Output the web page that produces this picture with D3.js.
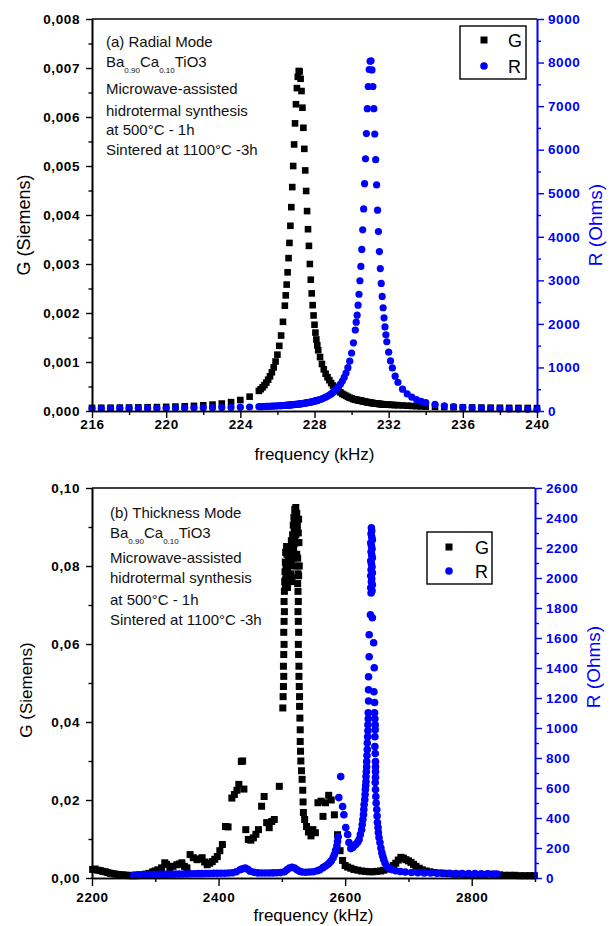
<!DOCTYPE html>
<html>
<head>
<meta charset="utf-8">
<script src="https://cdn.jsdelivr.net/npm/d3@7"></script>
<style>
  html, body { margin: 0; padding: 0; background: #fff; }
  svg { display: block; }
</style>
</head>
<body>
<svg id="chart" width="611" height="926"></svg>
<script>
// ---------- (a) radial mode sweep ----------
const radialFreq = [
  216, 216.5, 217, 217.5, 218, 218.5, 219, 219.5, 220, 220.5, 221, 221.5, 222, 222.5, 223, 223.5, 224, 224.5, 225,
  225.1, 225.2, 225.3, 225.4, 225.5, 225.6, 225.7, 225.8, 225.9, 226, 226.1, 226.2, 226.3, 226.4,
  226.45, 226.5, 226.55, 226.6, 226.65, 226.7, 226.75, 226.8, 226.85, 226.9, 226.95, 227, 227.05, 227.1, 227.15, 227.2,
  227.25, 227.3, 227.35, 227.4, 227.45, 227.5, 227.55, 227.6, 227.65, 227.7, 227.75, 227.8, 227.85, 227.9, 227.95, 228,
  228.05, 228.1, 228.15, 228.2,
  228.3, 228.4, 228.5, 228.6, 228.7, 228.8, 228.9, 229, 229.1, 229.2, 229.3, 229.4, 229.5, 229.6, 229.7, 229.8, 229.9, 230, 230.1, 230.2,
  230.25, 230.3, 230.35, 230.4, 230.45, 230.5, 230.55, 230.6, 230.65, 230.7, 230.75, 230.8, 230.85, 230.9, 230.95, 231,
  231.05, 231.1, 231.15, 231.2, 231.25, 231.3, 231.35, 231.4, 231.45, 231.5, 231.55, 231.6, 231.65, 231.7, 231.75, 231.8, 231.85, 231.9,
  232, 232.1, 232.2, 232.35, 232.5, 232.75, 233, 233.25, 233.5, 233.75, 234,
  234.5, 235, 235.5, 236, 236.5, 237, 237.5, 238, 238.5, 239, 239.5, 240
];
const radialG = [
  0.000064, 0.000066, 0.000067, 0.000069, 0.000071, 0.000074, 0.000077, 0.00008, 0.000085, 0.00009, 0.000097, 0.000105, 0.000117, 0.000131, 0.000152, 0.000181, 0.000224, 0.000293, 0.000411,
  0.000445, 0.000483, 0.000528, 0.000579, 0.000639, 0.000708, 0.000791, 0.000889, 0.00101, 0.00115, 0.00133, 0.00154, 0.00182, 0.00215,
  0.00236, 0.00258, 0.00283, 0.00312, 0.00343, 0.00378, 0.00416, 0.00457, 0.005, 0.00544, 0.00587, 0.00626, 0.00659, 0.00682, 0.00694, 0.00693,
  0.00678, 0.00653, 0.00619, 0.00578, 0.00535, 0.00491, 0.00449, 0.00408, 0.00371, 0.00337, 0.003, 0.00268, 0.0024, 0.00216, 0.00195, 0.00176,
  0.0016, 0.00146, 0.00134, 0.00124,
  0.0011, 0.00096, 0.00085, 0.00076, 0.00069, 0.00063, 0.00057, 0.00052, 0.00048, 0.00044, 0.00041, 0.00038, 0.00035, 0.00033, 0.00031, 0.00029, 0.00027, 0.00026, 0.00024, 0.00023,
  0.00023, 0.000225, 0.00022, 0.000217, 0.000213, 0.00021, 0.000205, 0.0002, 0.000196, 0.000192, 0.000188, 0.000184, 0.00018, 0.000177, 0.000173, 0.00017,
  0.000167, 0.000164, 0.000161, 0.000158, 0.000156, 0.000153, 0.000151, 0.000148, 0.000146, 0.000144, 0.000142, 0.00014, 0.000138, 0.000136, 0.000134, 0.000133, 0.000131, 0.00013,
  0.000128, 0.000126, 0.000124, 0.000121, 0.000118, 0.000113, 0.000108, 0.000103, 0.000098, 0.000093, 0.000088,
  0.000084, 0.00008, 0.000077, 0.000074, 0.000072, 0.00007, 0.000068, 0.000066, 0.000064, 0.000063, 0.000062, 0.00006
];
const radialR = [
  62, 62, 63, 64, 64, 65, 66, 67, 68, 69, 71, 72, 75, 77, 80, 83, 87, 92, 99,
  100, 102, 103, 105, 107, 109, 111, 113, 115, 118, 120, 123, 126, 129,
  130, 132, 134, 136, 137, 139, 141, 143, 145, 148, 150, 152, 155, 157, 160, 162,
  165, 168, 171, 174, 178, 181, 185, 189, 193, 197, 201, 205, 210, 215, 220, 226,
  231, 237, 243, 250,
  264, 280, 297, 317, 339, 365, 393, 426, 463, 507, 557, 617, 687, 770, 871, 995, 1144, 1332, 1565, 1860,
  2040, 2200, 2430, 2680, 2990, 3320, 3710, 4160, 4640, 5220, 5790, 6370, 6940, 7450, 7840, 8030,
  8040, 7830, 7450, 6940, 6360, 5770, 5190, 4610, 4120, 3660, 3270, 2930, 2630, 2370, 2140, 1930, 1750, 1590,
  1350, 1150, 990, 800, 660, 500, 392, 318, 262, 221, 190,
  150, 120, 99, 84, 73, 64, 58, 53, 48, 45, 42, 40
];

// ---------- (b) thickness mode sweep ----------
const thickGFreq = [
  2201, 2205, 2209, 2213, 2217, 2221, 2225, 2229, 2233, 2237, 2241, 2245, 2249, 2253, 2257, 2261, 2265, 2270, 2275, 2280, 2285, 2290,
  2296, 2300, 2304, 2310, 2315, 2318, 2323, 2328, 2334, 2338, 2342, 2346, 2350, 2355, 2360, 2366, 2370, 2374, 2378, 2382, 2386, 2390, 2394, 2398,
  2402, 2406, 2411, 2415, 2421, 2425, 2429, 2432, 2436, 2438, 2440, 2443, 2447, 2451, 2455, 2459, 2463, 2468, 2472, 2476, 2480, 2484, 2488, 2496,
  2501.5, 2502, 2502.5, 2503, 2502.5, 2503, 2503.5, 2503, 2503.5, 2504, 2503.5, 2504,
  2504.5, 2505, 2505.5, 2506, 2506.5, 2507, 2508, 2509, 2510, 2511, 2512, 2513, 2514, 2515, 2516, 2517, 2518, 2518.5, 2519, 2520,
  2520.5, 2521, 2522, 2522.5, 2523, 2523.5, 2524, 2524.5, 2525, 2525.5, 2525,
  2506, 2507.5, 2509, 2510.5, 2512, 2513.5, 2515, 2516.5, 2518, 2519.5, 2521, 2522, 2523, 2524, 2521.5, 2520, 2519, 2517.5, 2516, 2514.5,
  2508.5, 2505.5, 2520.5, 2522.5, 2523.5, 2524.5, 2526, 2527, 2526.5, 2527.5, 2526.5,
  2525.5, 2526, 2525.5, 2526, 2526.5, 2526, 2526.5, 2527, 2527, 2527.5, 2528, 2528, 2528.5, 2529, 2529, 2529.5, 2530, 2531, 2532, 2533,
  2533.5, 2534, 2536, 2539, 2542, 2546, 2549, 2553,
  2557, 2562, 2565, 2569, 2574, 2578, 2583,
  2588, 2592, 2596, 2600, 2604, 2609, 2614, 2620, 2626, 2632, 2638, 2644, 2650, 2656, 2661, 2666, 2671, 2676, 2680, 2684, 2688, 2692,
  2696, 2700, 2704, 2708, 2712, 2717, 2722, 2728, 2734, 2740, 2748, 2756, 2764, 2772, 2780, 2788, 2796, 2804, 2812, 2820, 2828, 2836,
  2844, 2852, 2860, 2868, 2876, 2884, 2892, 2899
];
const thickG = [
  0.0022, 0.0023, 0.002, 0.0019, 0.0017, 0.0016, 0.0014, 0.0012, 0.0011, 0.001, 0.0009, 0.0008, 0.0008, 0.0007, 0.0007, 0.0006, 0.0006, 0.0006, 0.0007, 0.0008, 0.001, 0.0012,
  0.0016, 0.0018, 0.0021, 0.0026, 0.0039, 0.0035, 0.0026, 0.003, 0.0034, 0.0036, 0.0039, 0.003, 0.0026, 0.006, 0.0052, 0.0047, 0.0049, 0.0052, 0.0041, 0.0034, 0.0038, 0.0042, 0.0048, 0.0055,
  0.007, 0.0086, 0.0132, 0.0131, 0.0205, 0.0214, 0.0225, 0.024, 0.0299, 0.03, 0.0228, 0.0124, 0.0099, 0.0097, 0.0103, 0.0112, 0.0124, 0.0184, 0.0209, 0.0142, 0.0129, 0.0145, 0.015, 0.0235,
  0.0436, 0.0465, 0.0491, 0.0517, 0.0543, 0.0573, 0.0599, 0.063, 0.0658, 0.0683, 0.0709, 0.0735,
  0.076, 0.0785, 0.081, 0.0835, 0.08, 0.077, 0.083, 0.079, 0.0845, 0.076, 0.0815, 0.085, 0.078, 0.0865, 0.08, 0.088, 0.0905, 0.084, 0.0925, 0.087,
  0.0945, 0.09, 0.095, 0.0915, 0.0885, 0.0935, 0.086, 0.0905, 0.082, 0.078, 0.0755,
  0.0765, 0.085, 0.0745, 0.0815, 0.0775, 0.083, 0.076, 0.0845, 0.087, 0.0895, 0.0935, 0.088, 0.0925, 0.089, 0.086, 0.091, 0.0855, 0.082, 0.077, 0.0805,
  0.0805, 0.0745, 0.083, 0.086, 0.083, 0.08, 0.0885, 0.086, 0.092, 0.08, 0.0775,
  0.0735, 0.0709, 0.0683, 0.0658, 0.063, 0.0599, 0.0573, 0.0543, 0.0517, 0.0491, 0.0465, 0.044, 0.041, 0.038, 0.035, 0.0325, 0.03, 0.0275, 0.0253, 0.0225,
  0.0195, 0.0168, 0.015, 0.0132, 0.0118, 0.0108, 0.0124, 0.0116,
  0.0193, 0.0197, 0.0158, 0.0193, 0.0212, 0.02, 0.0162,
  0.0111, 0.007, 0.0045, 0.0032, 0.0028, 0.0025, 0.0022, 0.002, 0.0018, 0.0017, 0.0016, 0.0016, 0.0017, 0.0018, 0.002, 0.0023, 0.0027, 0.0032, 0.0038, 0.0046, 0.0053, 0.0051,
  0.0047, 0.0044, 0.004, 0.0035, 0.003, 0.0025, 0.0021, 0.0018, 0.0016, 0.0014, 0.0013, 0.0012, 0.0011, 0.001, 0.001, 0.0009, 0.0009, 0.0009, 0.0008, 0.0009, 0.001, 0.0008,
  0.0008, 0.0007, 0.0007, 0.0007, 0.0006, 0.0006, 0.0006, 0.0006
];
const thickRFreq = [
  2266, 2272, 2278, 2284, 2290, 2296, 2302, 2308, 2314, 2320, 2326, 2332, 2338, 2344, 2350, 2356, 2362, 2368, 2374, 2380,
  2386, 2392, 2398, 2404, 2410, 2416, 2422, 2428, 2434, 2438, 2442, 2446, 2450, 2456, 2462, 2468, 2474, 2480, 2486, 2492,
  2498, 2504, 2508, 2512, 2516, 2520, 2524, 2528, 2532, 2538, 2544, 2550, 2556, 2560, 2565, 2569, 2573, 2576, 2578, 2581,
  2583, 2585, 2587, 2588, 2589, 2593, 2590, 2596, 2598, 2601, 2604, 2606, 2609, 2612, 2614, 2617, 2620,
  2622, 2624, 2626, 2627, 2628, 2629, 2629.5, 2630, 2631, 2631.5, 2632, 2632.5, 2633, 2633, 2633.5, 2634, 2634, 2634.5,
  2635, 2635, 2635.5, 2636, 2636, 2636.5, 2636.5, 2637, 2637, 2637, 2638, 2638, 2640,
  2641, 2642.5, 2640.5, 2643, 2641.5, 2642, 2640.5, 2643, 2641, 2642.5, 2641.5, 2640.5, 2643, 2642, 2641, 2642.5, 2641.5, 2640.5,
  2643, 2642, 2641, 2642, 2641.5,
  2643, 2645, 2646, 2645.5, 2646.5, 2646.5, 2647, 2647.5, 2647.5, 2647, 2647, 2647.5, 2648, 2648, 2648, 2648, 2647.5, 2648,
  2648.5, 2649, 2650, 2650.5, 2651, 2652, 2652.5, 2653.5, 2655, 2656.5, 2658, 2659.5, 2661, 2663, 2666, 2670, 2674, 2680,
  2687, 2695, 2705, 2715, 2725, 2735, 2745, 2755, 2765, 2775, 2785, 2795, 2805, 2815, 2825, 2835, 2840
];
const thickR = [
  20, 21, 21, 22, 22, 23, 23, 24, 24, 25, 25, 26, 26, 27, 27, 28, 28, 29, 29, 30,
  30, 31, 31, 32, 32, 33, 35, 42, 55, 62, 66, 58, 45, 38, 34, 33, 33, 33, 34, 35,
  36, 42, 55, 66, 72, 66, 55, 45, 40, 38, 40, 42, 48, 55, 69, 80, 92, 105, 115, 135,
  156, 185, 215, 245, 275, 676, 536, 476, 422, 336, 290, 236, 196, 203, 215, 225, 240,
  256, 290, 322, 356, 390, 423, 456, 490, 523, 556, 590, 616, 643, 676, 709, 742, 776, 816,
  856, 900, 942, 982, 1022, 1062, 1102, 1180, 1255, 1342, 1475, 1622, 1755,
  1900, 1915, 1935, 1955, 1975, 1995, 2015, 2035, 2055, 2075, 2095, 2115, 2135, 2155, 2175, 2195, 2215, 2235,
  2255, 2275, 2295, 2315, 2335,
  1735, 1568, 1402, 1242, 1170, 1102, 1062, 1022, 989, 942, 876, 830, 776, 742, 709, 672, 636, 590,
  543, 500, 456, 413, 370, 336, 303, 270, 236, 200, 169, 145, 123, 100, 76, 64, 56, 48,
  43, 40, 37, 35, 34, 33, 32, 31, 31, 30, 30, 29, 29, 28, 28, 27, 27
];

// ---------- axis ticks ----------
const radialXMajor = [216, 220, 224, 228, 232, 236, 240];
const radialXMinor = [218, 222, 226, 230, 234, 238];
const radialGMajor = [0, 0.001, 0.002, 0.003, 0.004, 0.005, 0.006, 0.007, 0.008];
const radialGMinor = [0.0005, 0.0015, 0.0025, 0.0035, 0.0045, 0.0055, 0.0065, 0.0075];
const radialRMajor = [0, 1000, 2000, 3000, 4000, 5000, 6000, 7000, 8000, 9000];
const radialRMinor = [500, 1500, 2500, 3500, 4500, 5500, 6500, 7500, 8500];

const thickXMajor = [2200, 2400, 2600, 2800];
const thickXMinor = [2300, 2500, 2700, 2900];
const thickGMajor = [0, 0.02, 0.04, 0.06, 0.08, 0.10];
const thickGMinor = [0.01, 0.03, 0.05, 0.07, 0.09];
const thickRMajor = [0, 200, 400, 600, 800, 1000, 1200, 1400, 1600, 1800, 2000, 2200, 2400, 2600];
const thickRMinor = [100, 300, 500, 700, 900, 1100, 1300, 1500, 1700, 1900, 2100, 2300, 2500];

// ---------- drawing ----------
const FONT = '"Liberation Sans", Arial, Helvetica, sans-serif';
const BLUE = "#0000ff";
const svg = d3.select("#chart");

const comma = digits => d => d.toFixed(digits).replace(".", ",");

function styleAxis(sel, color) {
  sel.attr("color", color)
     .attr("font-family", FONT)
     .attr("font-size", 13.5)
     .attr("font-weight", "bold");
  sel.selectAll("path.domain").attr("stroke-width", 1.6);
  sel.selectAll(".tick line").attr("stroke-width", 1.4);
  sel.selectAll(".tick text").style("letter-spacing", "0.6px");
}

function drawPanel(p) {
  const x = d3.scaleLinear().domain(p.xDomain).range([p.left, p.right]);
  const yG = d3.scaleLinear().domain(p.gDomain).range([p.bottom, p.top]);
  const yR = d3.scaleLinear().domain(p.rDomain).range([p.bottom, p.top]);
  const root = svg.append("g");

  // G — black squares
  const sq = p.square;
  root.append("g").selectAll("rect")
    .data(d3.zip(p.gFreq, p.gVal)).join("rect")
    .attr("x", d => x(d[0]) - sq / 2)
    .attr("y", d => yG(d[1]) - sq / 2)
    .attr("width", sq).attr("height", sq)
    .attr("fill", "#000");

  // R — blue dots
  root.append("g").selectAll("circle")
    .data(d3.zip(p.rFreq, p.rVal)).join("circle")
    .attr("cx", d => x(d[0]))
    .attr("cy", d => yR(d[1]))
    .attr("r", p.dot)
    .attr("fill", BLUE);

  // frame top edge
  root.append("line")
    .attr("x1", p.left).attr("x2", p.right)
    .attr("y1", p.top).attr("y2", p.top)
    .attr("stroke", "#000").attr("stroke-width", 1.6);

  // bottom axis
  const xa = root.append("g").attr("transform", `translate(0,${p.bottom})`)
    .call(d3.axisBottom(x).tickValues(p.xMajor).tickSize(p.xTick).tickSizeOuter(0)
      .tickPadding(p.xPad).tickFormat(d3.format("d")));
  styleAxis(xa, "#000");
  const xm = root.append("g").attr("transform", `translate(0,${p.bottom})`)
    .call(d3.axisBottom(x).tickValues(p.xMinor).tickSize(4).tickSizeOuter(0).tickFormat(""));
  styleAxis(xm, "#000");

  // left axis (G)
  const ga = root.append("g").attr("transform", `translate(${p.left},0)`)
    .call(d3.axisLeft(yG).tickValues(p.gMajor).tickSize(6).tickSizeOuter(0)
      .tickPadding(6).tickFormat(p.gFmt));
  styleAxis(ga, "#000");
  const gm = root.append("g").attr("transform", `translate(${p.left},0)`)
    .call(d3.axisLeft(yG).tickValues(p.gMinor).tickSize(3.5).tickSizeOuter(0).tickFormat(""));
  styleAxis(gm, "#000");

  // right axis (R)
  const ra = root.append("g").attr("transform", `translate(${p.right},0)`)
    .call(d3.axisRight(yR).tickValues(p.rMajor).tickSize(7).tickSizeOuter(0)
      .tickPadding(4).tickFormat(d3.format("d")));
  styleAxis(ra, BLUE);
  const rm = root.append("g").attr("transform", `translate(${p.right},0)`)
    .call(d3.axisRight(yR).tickValues(p.rMinor).tickSize(4).tickSizeOuter(0).tickFormat(""));
  styleAxis(rm, BLUE);

  // axis titles
  root.append("text")
    .attr("x", (p.left + p.right) / 2).attr("y", p.xTitleY)
    .attr("text-anchor", "middle")
    .attr("font-family", FONT).attr("font-size", 17)
    .text("frequency (kHz)");
  root.append("text")
    .attr("transform", `translate(${p.gTitle[0]},${p.gTitle[1]}) rotate(-90)`)
    .attr("text-anchor", "middle")
    .attr("font-family", FONT).attr("font-size", p.gTitleSize)
    .text("G (Siemens)");
  root.append("text")
    .attr("transform", `translate(${p.rTitle[0]},${p.rTitle[1]}) rotate(-90)`)
    .attr("text-anchor", "middle")
    .attr("font-family", FONT).attr("font-size", 19)
    .attr("fill", BLUE)
    .text("R (Ohms)");

  // sample description
  const note = root.append("g").attr("font-family", FONT).attr("font-size", 15).attr("fill", "#111");
  p.notes.forEach((line, i) => {
    const t = note.append("text").attr("x", p.noteX).attr("y", p.noteY[i]);
    if (line === "formula") {
      t.append("tspan").text("Ba");
      t.append("tspan").attr("font-size", 8).attr("dy", 6).text("0.90");
      t.append("tspan").attr("dy", -6).text("Ca");
      t.append("tspan").attr("font-size", 8).attr("dy", 6).text("0.10");
      t.append("tspan").attr("dy", -6).text("TiO3");
    } else {
      t.text(line);
    }
  });

  // legend
  const L = p.legend;
  const lg = root.append("g");
  lg.append("rect").attr("x", L.x).attr("y", L.y).attr("width", L.w).attr("height", L.h)
    .attr("fill", "#fff").attr("stroke", "#000").attr("stroke-width", 1.4);
  lg.append("rect").attr("x", L.mx - 3.5).attr("y", L.gy - 3.5).attr("width", 7).attr("height", 7).attr("fill", "#000");
  lg.append("circle").attr("cx", L.mx).attr("cy", L.ry).attr("r", 3.8).attr("fill", BLUE);
  lg.append("text").attr("x", L.tx).attr("y", L.gy + 6.5).attr("font-family", FONT).attr("font-size", 18).text("G");
  lg.append("text").attr("x", L.tx).attr("y", L.ry + 6.5).attr("font-family", FONT).attr("font-size", 18).text("R");
}

drawPanel({
  left: 92, right: 537, top: 19, bottom: 411,
  xDomain: [216, 240], gDomain: [0, 0.008], rDomain: [0, 9000],
  xMajor: radialXMajor, xMinor: radialXMinor,
  gMajor: radialGMajor, gMinor: radialGMinor, gFmt: comma(3),
  rMajor: radialRMajor, rMinor: radialRMinor,
  xTick: 7, xPad: 1,
  gFreq: radialFreq, gVal: radialG, rFreq: radialFreq, rVal: radialR,
  square: 6.6, dot: 3.6,
  xTitleY: 460, gTitle: [30, 225], gTitleSize: 18, rTitle: [602, 225],
  noteX: 106, noteY: [47, 66.5, 94, 116, 134.5, 155],
  notes: ["(a) Radial Mode", "formula", "Microwave-assisted", "hidrotermal synthesis", "at 500°C - 1h", "Sintered at 1100°C -3h"],
  legend: { x: 460, y: 26, w: 66, h: 53, mx: 484, tx: 508, gy: 40, ry: 66 }
});

drawPanel({
  left: 92, right: 535, top: 488, bottom: 878,
  xDomain: [2200, 2900], gDomain: [0, 0.10], rDomain: [0, 2600],
  xMajor: thickXMajor, xMinor: thickXMinor,
  gMajor: thickGMajor, gMinor: thickGMinor, gFmt: comma(2),
  rMajor: thickRMajor, rMinor: thickRMinor,
  xTick: 8, xPad: 6,
  gFreq: thickGFreq, gVal: thickG, rFreq: thickRFreq, rVal: thickR,
  square: 7, dot: 3.8,
  xTitleY: 921, gTitle: [32, 690], gTitleSize: 17, rTitle: [600, 667],
  noteX: 110, noteY: [518, 538, 563, 583, 605, 625],
  notes: ["(b) Thickness Mode", "formula", "Microwave-assisted", "hidrotermal synthesis", "at 500°C - 1h", "Sintered at 1100°C -3h"],
  legend: { x: 427, y: 532, w: 65, h: 52, mx: 449, tx: 475, gy: 547, ry: 571 }
});
</script>
</body>
</html>
